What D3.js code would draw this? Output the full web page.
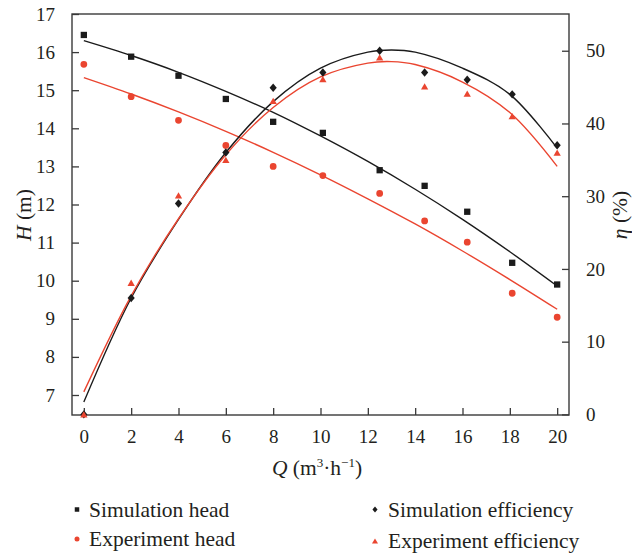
<!DOCTYPE html>
<html>
<head>
<meta charset="utf-8">
<script src="https://cdn.jsdelivr.net/npm/d3@7"></script>
<style>
  html, body { margin: 0; padding: 0; background: #fff; }
  svg { display: block; }
  text { font-family: "Liberation Serif", "DejaVu Serif", serif; fill: #231f20; }
</style>
</head>
<body>
<svg id="chart" width="632" height="557"></svg>
<script>
// ---- data ----
const Q = [0, 2, 4, 6, 8, 10.1, 12.5, 14.4, 16.2, 18.1, 20];
const simHead = [16.45, 15.88, 15.38, 14.77, 14.17, 13.88, 12.90, 12.49, 11.81, 10.47, 9.90];
const expHead = [15.68, 14.83, 14.21, 13.55, 13.00, 12.76, 12.29, 11.57, 11.01, 9.67, 9.04];
const simEff = [0, 16.0, 29.0, 36.0, 44.9, 47.0, 50.0, 47.0, 46.0, 44.0, 37.0];
const expEff = [0, 18.1, 30.1, 35.0, 43.1, 46.1, 49.1, 45.1, 44.1, 41.0, 36.0];

// fitted trend lines
const headFitQ = [0, 2, 4, 6, 8, 10, 12, 14, 16, 18, 20];
const simHeadFit = [16.30, 15.91, 15.47, 14.97, 14.42, 13.80, 13.13, 12.40, 11.61, 10.76, 9.86];
const expHeadFit = [15.33, 14.90, 14.43, 13.92, 13.37, 12.78, 12.15, 11.49, 10.78, 10.03, 9.25];
const effFitQ = [0, 2, 4, 6, 8, 10, 12, 13, 14, 16, 18, 20];
const simEffFit = [1.7, 16.0, 26.8, 36.0, 43.0, 47.6, 49.8, 50.1, 49.8, 47.6, 44.0, 36.6];
const expEffFit = [3.1, 16.3, 26.9, 35.7, 42.2, 46.4, 48.3, 48.5, 48.1, 45.7, 41.5, 34.1];

const xTicks = [0, 2, 4, 6, 8, 10, 12, 14, 16, 18, 20];
const hTicks = [7, 8, 9, 10, 11, 12, 13, 14, 15, 16, 17];
const eTicks = [0, 10, 20, 30, 40, 50];

const legendItems = [
  {label: "Simulation head", shape: "square", color: "black"},
  {label: "Experiment head", shape: "circle", color: "red"},
  {label: "Simulation efficiency", shape: "diamond", color: "black"},
  {label: "Experiment efficiency", shape: "triangle", color: "red"}
];

// ---- styles ----
const BLACK = "#1b1b1b";
const RED = "#ea4530";
const AXIS = "#3a3a3a";
const colorOf = c => c === "red" ? RED : BLACK;

const svg = d3.select("#chart");
const L = 72, R = 569, T = 14, B = 415;

const x = d3.scaleLinear().domain([-0.5, 20.5]).range([L, R]);
const yH = d3.scaleLinear().domain([6.475, 17]).range([B, T]);
const yE = d3.scaleLinear().domain([0, 55.05]).range([B - 0.6, T]);

// shapes (s = overall size in px)
function shapePath(shape, s) {
  switch (shape) {
    case "square": return `M${-s/2},${-s/2}h${s}v${s}h${-s}Z`;
    case "circle": return `M${s/2},0A${s/2},${s/2} 0 1,1 ${-s/2},0A${s/2},${s/2} 0 1,1 ${s/2},0Z`;
    case "diamond": { const w = s*0.46, h = s*0.54; return `M0,${-h}L${w},0L0,${h}L${-w},0Z`; }
    case "triangle": { const w = s*0.52, h = s*0.45; return `M0,${-h}L${w},${h}L${-w},${h}Z`; }
  }
}

// ---- axes ----
const gx = svg.append("g").attr("transform", `translate(0,${B})`)
  .call(d3.axisBottom(x).tickValues(xTicks).tickSizeInner(-7).tickSizeOuter(0).tickPadding(14));
const gl = svg.append("g").attr("transform", `translate(${L},0)`)
  .call(d3.axisLeft(yH).tickValues(hTicks).tickSizeInner(-7).tickSizeOuter(0).tickPadding(17));
const gr = svg.append("g").attr("transform", `translate(${R},0)`)
  .call(d3.axisRight(yE).tickValues(eTicks).tickSizeInner(-7).tickSizeOuter(0).tickPadding(17));

[gx, gl, gr].forEach(g => {
  g.select(".domain").remove();
  g.selectAll(".tick line").attr("stroke", AXIS).attr("stroke-width", 1.3);
  g.selectAll(".tick text").attr("font-size", 19).attr("fill", "#231f20")
    .attr("font-family", '"Liberation Serif", serif');
});
gx.selectAll(".tick text").attr("dy", "0.72em");

// frame
svg.append("rect").attr("x", L).attr("y", T).attr("width", R - L).attr("height", B - T)
  .attr("fill", "none").attr("stroke", AXIS).attr("stroke-width", 1.4);

// ---- fit lines ----
const lineH = d3.line().x(d => x(d[0])).y(d => yH(d[1])).curve(d3.curveCatmullRom.alpha(0.5));
const lineE = d3.line().x(d => x(d[0])).y(d => yE(d[1])).curve(d3.curveCatmullRom.alpha(0.5));

const plot = svg.append("g");
plot.append("path").datum(d3.zip(headFitQ, simHeadFit)).attr("d", lineH)
  .attr("fill", "none").attr("stroke", BLACK).attr("stroke-width", 1.4);
plot.append("path").datum(d3.zip(headFitQ, expHeadFit)).attr("d", lineH)
  .attr("fill", "none").attr("stroke", RED).attr("stroke-width", 1.4);
plot.append("path").datum(d3.zip(effFitQ, simEffFit)).attr("d", lineE)
  .attr("fill", "none").attr("stroke", BLACK).attr("stroke-width", 1.4);
plot.append("path").datum(d3.zip(effFitQ, expEffFit)).attr("d", lineE)
  .attr("fill", "none").attr("stroke", RED).attr("stroke-width", 1.4);

// ---- markers ----
function drawMarkers(vals, yScale, shape, size, color) {
  plot.append("g").selectAll("path").data(d3.zip(Q, vals)).join("path")
    .attr("transform", d => `translate(${x(d[0])},${yScale(d[1])})`)
    .attr("d", shapePath(shape, size)).attr("fill", color);
}
drawMarkers(simHead, yH, "square", 6.3, BLACK);
drawMarkers(expHead, yH, "circle", 6.8, RED);
drawMarkers(simEff, yE, "diamond", 7.8, BLACK);
drawMarkers(expEff, yE, "triangle", 7.0, RED);

// ---- axis titles ----
const xt = svg.append("text").attr("x", 317).attr("y", 475).attr("text-anchor", "middle").attr("font-size", 21.5);
xt.append("tspan").attr("font-style", "italic").text("Q");
xt.append("tspan").text(" (m");
xt.append("tspan").attr("font-size", 13).attr("dy", -8).text("3");
xt.append("tspan").attr("dy", 8).text("·h");
xt.append("tspan").attr("font-size", 13).attr("dy", -8).text("−1");
xt.append("tspan").attr("dy", 8).text(")");

const ht = svg.append("text").attr("transform", "translate(31,215) rotate(-90)")
  .attr("text-anchor", "middle").attr("font-size", 21.5);
ht.append("tspan").attr("font-style", "italic").text("H");
ht.append("tspan").text(" (m)");

const et = svg.append("text").attr("transform", "translate(627,215) rotate(-90)")
  .attr("text-anchor", "middle").attr("font-size", 21.5);
et.append("tspan").attr("font-style", "italic").text("η");
et.append("tspan").text(" (%)");

// ---- legend ----
const legPos = [
  {mx: 77, tx: 89, y: 516.5},
  {mx: 77, tx: 89, y: 546},
  {mx: 375, tx: 388, y: 516.5},
  {mx: 375, tx: 388, y: 548}
];
const legSizes = {square: 4.5, circle: 5, diamond: 5.6, triangle: 5.8};
legendItems.forEach((it, i) => {
  const p = legPos[i];
  svg.append("path").attr("transform", `translate(${p.mx},${p.y - 7})`)
    .attr("d", shapePath(it.shape, legSizes[it.shape])).attr("fill", colorOf(it.color));
  svg.append("text").attr("x", p.tx).attr("y", p.y).attr("font-size", 21.5).text(it.label);
});
</script>
</body>
</html>
